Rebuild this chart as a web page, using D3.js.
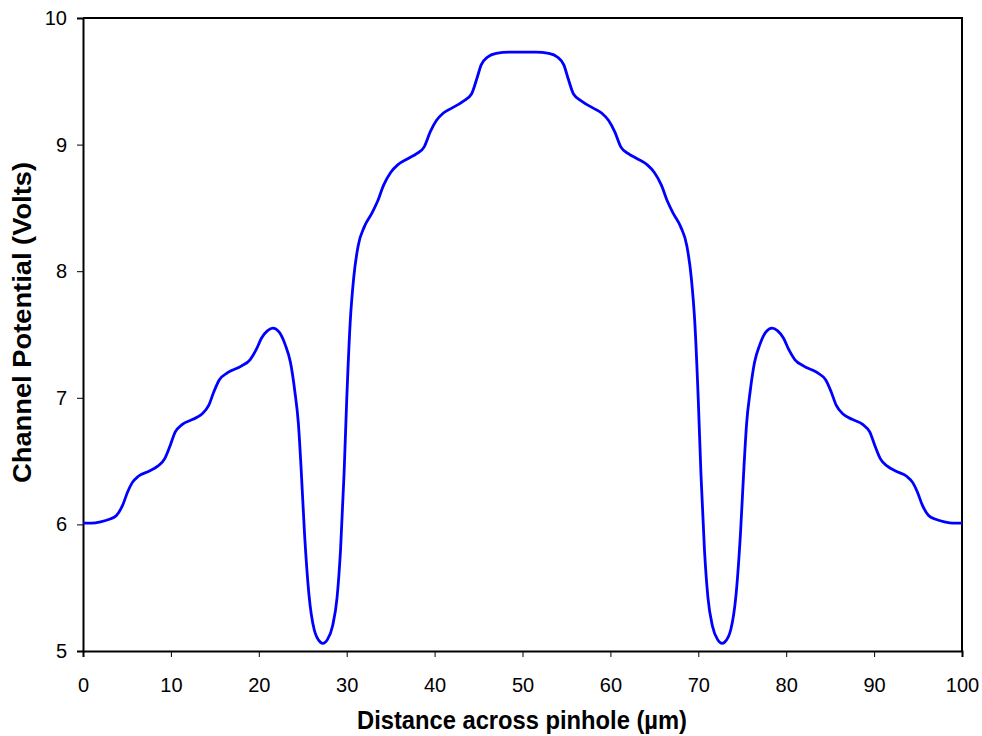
<!DOCTYPE html>
<html lang="en">
<head>
    <title>Channel Potential across Pinhole</title>
    <style>
        body, html { margin: 0; height: 100%; overflow: hidden; background: #fff; }
        svg { display: block; }
        .tick text { font-family: "Liberation Sans", Arial, sans-serif; font-size: 20px; fill: #000; }
        .axis-title { font-family: "Liberation Sans", Arial, sans-serif; font-size: 25px; font-weight: bold; }
    </style>
    <script src="https://d3js.org/d3.v7.min.js"></script>
</head>
<body>
    <svg></svg>

    <script>
        // distance across pinhole (um) and channel potential (V)
        const distance = [
            0, 1, 2, 3, 3.8, 4.5, 5.1, 5.6, 6.3, 7.5, 8.5, 9.3, 9.9, 10.5, 11.3, 12.5, 13.5, 14.3, 14.9, 15.5,
            16.5, 18, 19, 19.7, 20.3, 21.0, 21.6, 22.3, 23, 23.6, 24.1, 24.5, 24.8, 25.2, 25.7, 26.3, 27.0, 27.3,
            27.8, 28.4, 28.9, 29.3, 29.7, 30.0, 30.4, 30.8, 31.3, 32.0, 32.8, 33.5, 34.2, 35, 35.8, 37, 38, 38.8,
            39.5, 40.2, 41, 42, 43.2, 44.2, 44.8, 45.3, 46, 47, 48.5, 50,
            51.5, 53, 54, 54.7, 55.2, 55.8, 56.8, 58, 59, 59.8, 60.5, 61.2, 62, 63, 64.2, 65, 65.8, 66.5, 67.2,
            68, 68.7, 69.2, 69.6, 70.0, 70.3, 70.7, 71.1, 71.6, 72.2, 72.7, 73.0, 73.7, 74.3, 74.8, 75.2, 75.5,
            75.9, 76.4, 77, 77.7, 78.4, 79.0, 79.7, 80.3, 81, 82, 83.5, 84.5, 85.1, 85.7, 86.5, 87.5, 88.7, 89.5,
            90.1, 90.7, 91.5, 92.5, 93.7, 94.4, 94.9, 95.5, 96.2, 97, 98, 99, 100
        ];
        const potential = [
            6.01, 6.01, 6.02, 6.04, 6.07, 6.15, 6.26, 6.33, 6.38, 6.42, 6.46, 6.52, 6.62, 6.73, 6.79, 6.83, 6.87, 6.94, 7.05, 7.14,
            7.20, 7.25, 7.30, 7.38, 7.47, 7.53, 7.55, 7.52, 7.42, 7.28, 7.05, 6.80, 6.46, 5.93, 5.45, 5.17, 5.07, 5.06,
            5.09, 5.20, 5.42, 5.80, 6.40, 6.98, 7.60, 7.95, 8.20, 8.35, 8.45, 8.55, 8.68, 8.78, 8.84, 8.89, 8.93, 8.98,
            9.10, 9.19, 9.25, 9.29, 9.34, 9.40, 9.52, 9.63, 9.69, 9.72, 9.73, 9.73,
            9.73, 9.72, 9.69, 9.63, 9.52, 9.40, 9.34, 9.29, 9.25, 9.19, 9.10, 8.98, 8.93, 8.89, 8.84, 8.78, 8.68, 8.55, 8.45,
            8.35, 8.20, 7.95, 7.60, 6.98, 6.40, 5.80, 5.42, 5.20, 5.09, 5.06, 5.07, 5.17, 5.45, 5.93, 6.46, 6.80,
            7.05, 7.28, 7.42, 7.52, 7.55, 7.53, 7.47, 7.38, 7.30, 7.25, 7.20, 7.14, 7.05, 6.94, 6.87, 6.83, 6.79, 6.73,
            6.62, 6.52, 6.46, 6.42, 6.38, 6.33, 6.26, 6.15, 6.07, 6.04, 6.02, 6.01, 6.01
        ];
        const xTicks = [0, 10, 20, 30, 40, 50, 60, 70, 80, 90, 100];
        const yTicks = [5, 6, 7, 8, 9, 10];

        const width = 982, height = 736;
        const margin = { top: 18, right: 20, bottom: 85, left: 83 };

        const svg = d3.select("svg")
            .attr("width", width)
            .attr("height", height);

        const x = d3.scaleLinear().domain([0, 100]).range([margin.left, width - margin.right]);
        const y = d3.scaleLinear().domain([5, 10]).range([height - margin.bottom, margin.top]);

        // frame on top and right
        svg.append("path")
            .attr("d", `M${x(0)},${y(10)}H${x(100)}V${y(5)}`)
            .attr("fill", "none")
            .attr("stroke", "#000")
            .attr("stroke-width", 2);

        const xAxis = svg.append("g")
            .attr("transform", `translate(0,${y(5)})`)
            .call(d3.axisBottom(x).tickValues(xTicks).tickFormat(d3.format("d")).tickSize(6).tickPadding(21));

        const yAxis = svg.append("g")
            .attr("transform", `translate(${x(0)},0)`)
            .call(d3.axisLeft(y).tickValues(yTicks).tickFormat(d3.format("d")).tickSize(6).tickPadding(10));

        [xAxis, yAxis].forEach(g => {
            g.select(".domain").attr("stroke", "#000").attr("stroke-width", 2);
            g.selectAll(".tick line").attr("stroke", "#000").attr("stroke-width", 1);
            g.attr("font-family", null).attr("font-size", null);
        });

        const data = distance.map((d, i) => ({ x: d, y: potential[i] }));

        const line = d3.line()
            .x(d => x(d.x))
            .y(d => y(d.y))
            .curve(d3.curveMonotoneX);

        svg.append("path")
            .datum(data)
            .attr("d", line)
            .attr("fill", "none")
            .attr("stroke", "#0000ff")
            .attr("stroke-width", 2.8);

        svg.append("text")
            .attr("class", "axis-title")
            .attr("x", 357)
            .attr("y", 729)
            .attr("textLength", 330)
            .attr("lengthAdjust", "spacingAndGlyphs")
            .text("Distance across pinhole (µm)");

        svg.append("text")
            .attr("class", "axis-title")
            .attr("transform", `translate(31,483) rotate(-90)`)
            .attr("textLength", 321)
            .attr("lengthAdjust", "spacingAndGlyphs")
            .text("Channel Potential (Volts)");
    </script>
</body>
</html>
